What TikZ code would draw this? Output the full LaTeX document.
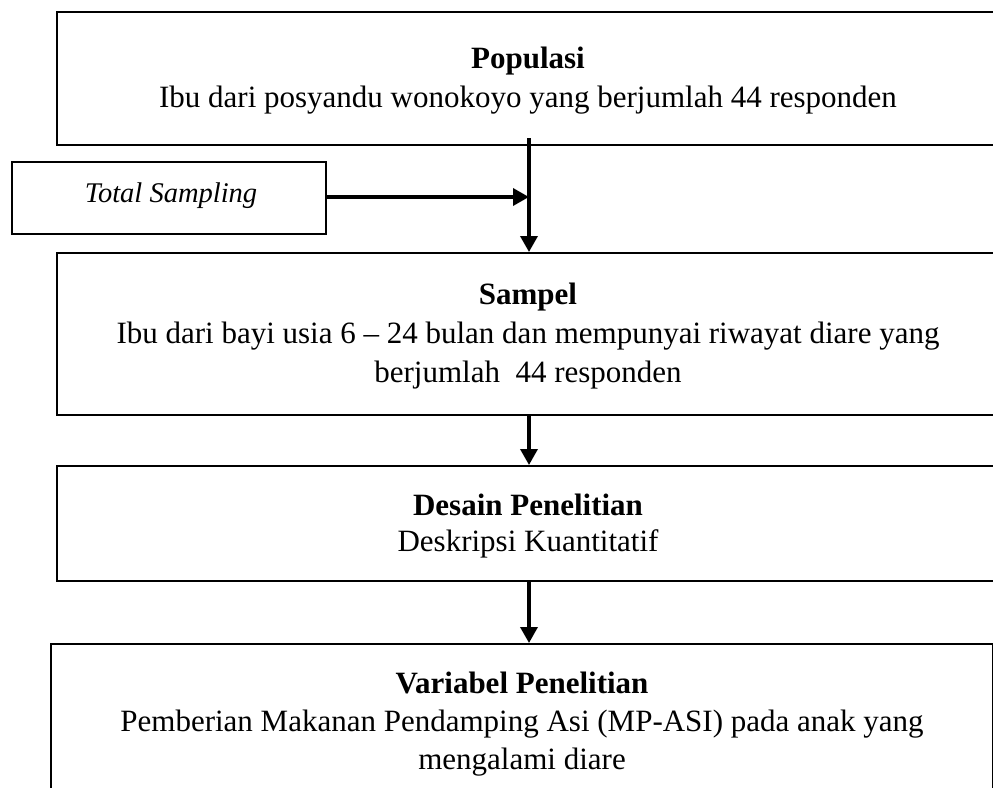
\documentclass[tikz,border=0pt]{standalone}
\usepackage{fontspec}
\setmainfont{Liberation Serif}
\usetikzlibrary{arrows.meta}
\begin{document}
\begin{tikzpicture}[x=1pt,y=-1pt,
  boxnode/.style={draw=black,line width=2pt,rectangle,inner sep=0pt},
  txt/.style={anchor=base,inner sep=0pt,font=\fontsize{31}{39}\selectfont},
  hdr/.style={txt,font=\fontsize{31}{39}\selectfont\bfseries},
  arr/.style={line width=3.5pt,-{Triangle[width=17pt,length=16pt]}}]
\useasboundingbox[fill=white] (0,0) rectangle (993,787);
\begin{scope}
\clip (0,0) rectangle (993,787);
% boxes
\node[boxnode,minimum width=942pt,minimum height=133pt] (b1) at (528,78.5) {};
\node[boxnode,minimum width=314pt,minimum height=72pt] (ts) at (169,198) {};
\node[boxnode,minimum width=942pt,minimum height=162pt] (b2) at (528,334) {};
\node[boxnode,minimum width=942pt,minimum height=115pt] (b3) at (528,523.5) {};
\node[boxnode,minimum width=942pt,minimum height=156pt] (b4) at (522,722) {};
% texts
\node[hdr] (t1a) at (528,68) {Populasi};
\node[txt] (t1b) at (528,107) {Ibu dari posyandu wonokoyo yang berjumlah 44 responden};
\node[txt,font=\fontsize{28.5}{36}\selectfont\itshape] (tts) at (171,202) {Total Sampling};
\node[hdr] (t2a) at (528,304) {Sampel};
\node[txt] (t2b) at (528,343) {Ibu dari bayi usia 6 – 24 bulan dan mempunyai riwayat diare yang};
\node[txt] (t2c) at (528,382) {berjumlah\ \ 44 responden};
\node[hdr] (t3a) at (528,515) {Desain Penelitian};
\node[txt] (t3b) at (528,551) {Deskripsi Kuantitatif};
\node[hdr] (t4a) at (522,693) {Variabel Penelitian};
\node[txt] (t4b) at (522,731) {Pemberian Makanan Pendamping Asi (MP-ASI) pada anak yang};
\node[txt] (t4c) at (522,769) {mengalami diare};
% connectors
\coordinate (s1) at (529,138);
\coordinate (j1) at (529,197);
\draw[arr] (s1) -- (s1 |- b2.north);
\draw[arr] (ts.east |- j1) -- (j1);
\draw[arr] (b2.south -| s1) -- (s1 |- b3.north);
\draw[arr] (b3.south -| s1) -- (s1 |- b4.north);
\end{scope}
\end{tikzpicture}
\end{document}
